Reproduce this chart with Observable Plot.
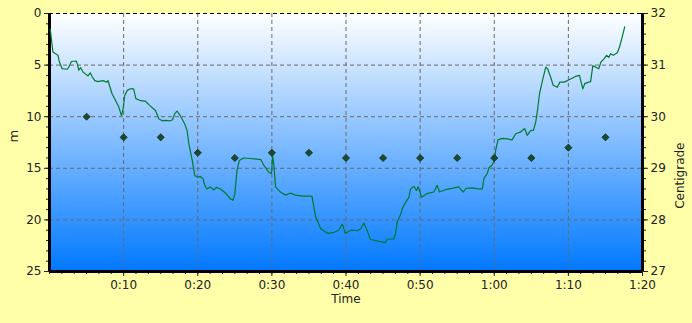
<!DOCTYPE html>
<html>
<head>
<meta charset="utf-8">
<script src="https://cdn.jsdelivr.net/npm/d3@7"></script>
<script src="https://cdn.jsdelivr.net/npm/@observablehq/plot@0.6"></script>
<style>
  html, body { margin: 0; padding: 0; background: #FFFFAA; }
  #chart svg { display: block; }
</style>
</head>
<body>
<div id="chart"></div>
<script>
// Dive profile: elapsed minutes and depth in metres
const profileMinutes = [0.1,0.45,0.8,1.15,1.3,1.7,2.4,2.6,2.95,3.6,3.8,3.95,4.2,4.55,4.85,5.2,5.5,5.75,6.1,6.55,7.2,7.75,7.9,8.1,8.45,8.9,9.35,9.7,9.9,10.15,10.5,10.9,11.35,11.65,12.3,12.95,13.5,14.3,14.75,15.2,15.65,16.3,16.6,16.9,17.2,17.65,18.25,18.55,18.8,19.25,19.6,19.9,20.35,20.7,20.95,21.25,21.7,22.15,22.5,23.05,23.75,24.4,24.75,25.0,25.3,25.6,26.2,27.1,28.5,28.9,29.6,29.95,30.1,30.25,30.5,31.15,31.85,32.5,33.2,34.1,35.4,35.9,36.6,37.5,38.4,39.0,39.5,39.9,40.7,41.5,42.0,42.4,42.85,43.3,44.3,45.3,45.6,46.45,46.7,46.9,47.35,47.6,48.0,48.5,48.7,49.15,49.5,49.75,50.2,50.95,51.85,52.3,52.6,53.5,54.3,55.2,55.8,56.2,57.0,57.9,58.4,58.6,59.05,59.3,59.7,60.0,60.2,60.5,61.1,61.75,62.4,62.9,63.5,64.1,64.45,64.9,65.3,65.6,65.85,66.1,66.5,66.95,67.2,67.6,67.95,68.5,68.85,69.4,69.9,70.3,70.95,71.5,71.7,71.95,72.2,72.75,73.0,73.3,73.7,74.1,74.4,74.8,75.15,75.45,75.7,76.05,76.6,76.9,77.25,77.6];
const profileDepth = [1.5,3.7,3.9,4.05,4.6,5.35,5.4,5.2,4.65,4.6,5.0,5.5,5.25,5.7,5.85,6.05,5.75,6.1,6.5,6.6,6.5,6.65,6.5,7.0,7.8,8.4,9.05,9.9,9.4,7.95,7.45,7.3,7.3,8.25,8.45,8.5,8.9,9.4,10.2,10.4,10.35,10.4,10.3,9.7,9.45,9.9,10.7,11.3,12.6,14.2,15.7,15.85,15.8,16.0,16.65,17.0,16.8,17.1,16.85,17.0,17.4,17.95,18.1,17.5,15.2,14.25,14.0,14.05,14.15,14.7,15.4,15.5,13.75,14.6,16.8,17.3,17.6,17.4,17.6,17.7,17.7,19.7,20.85,21.3,21.2,21.0,20.4,21.3,21.0,21.05,20.85,20.3,21.0,21.9,22.05,22.2,21.85,21.85,21.3,20.2,19.5,18.9,18.35,17.8,17.0,16.75,17.15,16.8,17.8,17.45,17.3,16.65,17.3,17.05,16.95,16.8,17.3,16.95,16.9,17.0,17.0,16.0,15.5,14.95,14.7,14.25,13.25,12.25,12.1,12.15,12.25,11.65,11.5,11.15,11.8,11.35,11.3,10.5,9.3,7.8,6.5,5.2,5.35,6.15,6.95,7.15,6.65,6.65,6.5,6.35,6.1,6.0,6.6,7.3,6.8,6.65,6.6,5.05,5.2,5.35,4.7,4.4,4.05,4.25,3.9,4.05,3.8,3.25,2.3,1.3];

// Temperature samples (Centigrade) every 5 minutes
const tempMinutes = [5,10,15,20,25,30,35,40,45,50,55,60,65,70,75];
const tempValues = [30.0,29.6,29.6,29.3,29.2,29.3,29.3,29.2,29.2,29.2,29.2,29.2,29.2,29.4,29.6];

// Axis tick values
const depthTicks = [0,5,10,15,20,25];
const timeTicks = [10,20,30,40,50,60,70,80];
const tempTicks = [27,28,29,30,31,32];

const profile = profileMinutes.map((t, i) => ({t, d: profileDepth[i]}));
// temperature mapped onto the depth scale: 32°C -> 0 m, 27°C -> 25 m
const tempToDepth = c => (32 - c) * 5;
const temps = tempMinutes.map((t, i) => ({t, d: tempToDepth(tempValues[i])}));
const fmtTime = m => `${Math.floor(m / 60)}:${String(m % 60).padStart(2, "0")}`;

const font = "DejaVu Sans, sans-serif";
const plot = Plot.plot({
  width: 692,
  height: 323,
  marginLeft: 49,
  marginRight: 50,
  marginTop: 13,
  marginBottom: 52,
  style: {background: "#FFFFAA", fontFamily: font, fontSize: "12px", color: "#222"},
  x: {domain: [0, 80]},
  y: {domain: [0, 25], reverse: true},
  marks: [
    Plot.frame({fill: "url(#plotbg)", stroke: "none"}),
    Plot.gridX(timeTicks.filter(t => t < 80), {stroke: "#6a6a6a", strokeOpacity: 1, strokeDasharray: "4,3"}),
    Plot.gridY(depthTicks.filter(d => d > 0 && d < 25), {stroke: "#6a6a6a", strokeOpacity: 1, strokeDasharray: "4,3"}),
    Plot.ruleY([0], {stroke: "#000", strokeDasharray: "4,3"}),
    // minor ticks
    Plot.axisY(d3.range(0, 26, 1), {anchor: "left", tickSize: 3, tickFormat: () => "", label: null}),
    Plot.axisY(d3.range(0, 25.01, 1), {anchor: "right", tickSize: 3, tickFormat: () => "", label: null}),
    Plot.axisX(d3.range(0, 80.01, 10 / 6), {anchor: "bottom", tickSize: 3, tickFormat: () => "", label: null}),
    // major axes
    Plot.axisY(depthTicks, {anchor: "left", tickSize: 5, tickPadding: 3, label: null, fontSize: 12}),
    Plot.axisY(tempTicks.map(tempToDepth), {anchor: "right", tickSize: 5, tickPadding: 3, label: null, tickFormat: d => String(32 - d / 5), fontSize: 12}),
    Plot.axisX(timeTicks, {anchor: "bottom", tickSize: 5, tickPadding: 4, label: null, tickFormat: fmtTime, fontSize: 12}),
    Plot.ruleX([0], {stroke: "#000", strokeWidth: 3}),
    Plot.ruleX([80], {stroke: "#000", strokeWidth: 3}),
    Plot.ruleY([25], {stroke: "#000", strokeWidth: 3}),
    Plot.line(profile, {x: "t", y: "d", stroke: "#007a33", strokeWidth: 1.2, curve: "linear"}),
    Plot.dot(temps, {x: "t", y: "d", symbol: "diamond2", r: 3.2, fill: "#1c4a2c", stroke: "#0e2a18", strokeWidth: 0.8}),
    Plot.text(["m"], {frameAnchor: "left", dx: -36, rotate: -90, fontSize: 13, fill: "#222"}),
    Plot.text(["Centigrade"], {frameAnchor: "right", dx: 38, rotate: -90, fontSize: 12, fill: "#222"}),
    Plot.text(["Time"], {frameAnchor: "bottom", dy: 31, fontSize: 12, fill: "#222"})
  ]
});

const svg = d3.select(plot);
const defs = svg.insert("defs", ":first-child");
const g = defs.append("linearGradient").attr("id", "plotbg").attr("x1", 0).attr("y1", 0).attr("x2", 0).attr("y2", 1);
g.append("stop").attr("offset", "0%").attr("stop-color", "#FFFFFF");
g.append("stop").attr("offset", "100%").attr("stop-color", "#0078FF");
document.getElementById("chart").appendChild(plot);
</script>
</body>
</html>
